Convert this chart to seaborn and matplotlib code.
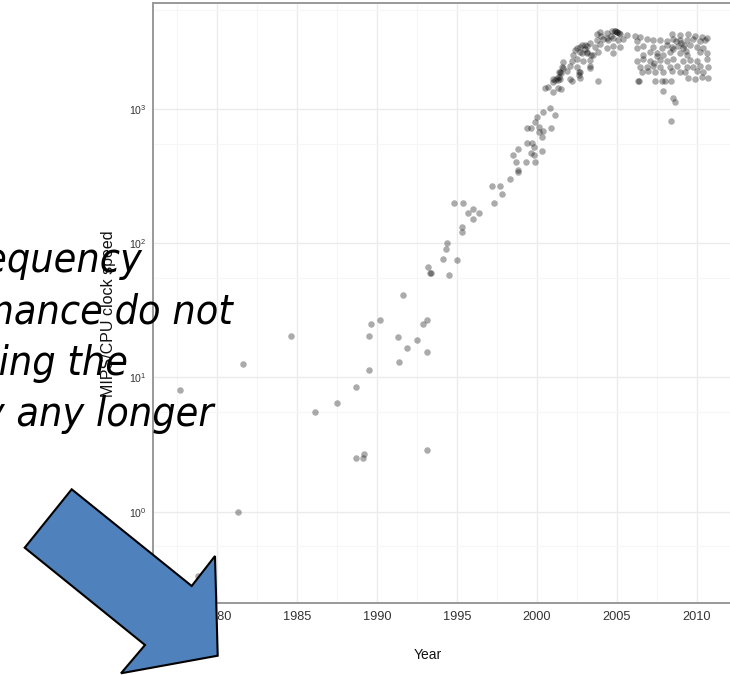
import matplotlib
matplotlib.use("Agg")
import matplotlib.pyplot as plt
from matplotlib import font_manager as fm
from matplotlib.patches import Polygon
from matplotlib.ticker import FixedLocator, NullFormatter
import seaborn as sns
import pandas as pd

# ---------------- data ----------------
years_early = [1977.7, 1978.8, 1981.3, 1981.6, 1984.6, 1986.1, 1987.5, 1988.7, 1988.7, 1989.1,
               1989.2, 1989.5, 1989.5, 1989.6, 1990.2, 1991.3, 1991.4, 1991.6, 1991.9, 1992.5,
               1992.9, 1993.1, 1993.1, 1993.1, 1993.2, 1993.3, 1993.4, 1994.1, 1994.3, 1994.4,
               1994.5, 1994.8, 1995.0, 1995.3, 1995.3, 1995.4, 1995.7, 1996.0, 1996.0, 1996.4,
               1997.2, 1997.3, 1997.7, 1997.8, 1998.3, 1998.5, 1998.7, 1998.8, 1998.8, 1998.8,
               1999.3, 1999.4, 1999.4, 1999.6, 1999.6, 1999.7, 1999.8, 1999.8, 1999.9, 1999.9,
               2000.0, 2000.1, 2000.1, 2000.3, 2000.3, 2000.4, 2000.4, 2000.8, 2000.9, 2001.1]
mips_early = [8.0, 0.33, 1.0, 12.5, 20.2, 5.5, 6.5, 8.5, 2.5, 2.5,
              2.7, 11.4, 20.2, 25.1, 27.0, 20.0, 13.1, 41.0, 16.6, 19.1,
              25.0, 27.0, 15.4, 2.9, 66.5, 60.0, 60.0, 77.0, 90.0, 100.0,
              58.0, 201, 75.6, 132, 121, 201, 167, 181, 151, 167,
              268, 201, 268, 235, 304, 454, 404, 351, 340, 505,
              404, 555, 718, 718, 467, 555, 454, 523, 404, 804,
              877, 738, 678, 621, 487, 955, 685, 1012, 718, 911]

years_knee = [2000.5, 2000.7, 2001.0, 2001.3, 2001.5, 2001.0, 2001.1, 2001.3, 2001.4, 2001.4,
              2001.6, 2001.6, 2001.5, 2002.2, 2003.8, 2006.3, 2006.4, 2007.4, 2007.8, 2008.0,
              2008.4, 2007.85, 2008.5, 2008.6, 2008.4, 2002.4, 2002.7, 2003.0, 2003.1, 2003.4,
              2002.6, 2002.6, 2003.3]
mips_knee = [1427, 1470, 1345, 1427, 1410, 1600, 1645, 1645, 1742, 1897,
             2014, 2254, 1845, 1618, 1618, 1618, 1618, 1618, 1618, 1618,
             1618, 1362, 1215, 1122, 814, 2755, 2917, 3006, 2679, 2530,
             1897, 1788, 2014]

years_top = [2003.73, 2003.94, 2004.36, 2004.67, 2004.88, 2004.98, 2005.19, 2005.61, 2006.13, 2006.44,
             2008.42, 2008.94, 2009.46, 2009.88, 2010.29, 2010.61,
             2003.73, 2004.15, 2004.46, 2004.77, 2005.09, 2005.40, 2006.23, 2006.86, 2007.27, 2007.69,
             2008.11, 2008.52, 2008.94, 2009.36, 2009.77, 2010.19, 2010.50,
             2002.48, 2002.79, 2003.10, 2003.63, 2003.94, 2004.36, 2004.77, 2005.19, 2006.23, 2006.65,
             2007.27, 2007.79, 2008.11, 2008.42, 2008.84, 2009.15, 2009.56, 2009.98, 2010.40,
             2004.9, 2005.0, 2005.1, 2004.6, 2004.4, 2008.7, 2009.0, 2009.2, 2003.3, 2004.0]
mips_top = [3600, 3750, 3700, 3850, 3800, 3780, 3650, 3550, 3500, 3450,
            3600, 3550, 3650, 3500, 3450, 3400,
            3300, 3350, 3250, 3400, 3300, 3350, 3200, 3350, 3250, 3300,
            3200, 3350, 3300, 3250, 3350, 3200, 3300,
            2850, 3000, 2950, 2900, 3050, 2850, 2950, 2900, 2850, 2950,
            2900, 2850, 3000, 2900, 2950, 2850, 3000, 2900, 2850,
            3800, 3780, 3700, 3500, 3400, 3200, 3100, 3000, 3100, 3500]

years_mid = [2002.27, 2002.69, 2003.10, 2003.52, 2003.84, 2004.77, 2006.65, 2007.07, 2007.48, 2007.90,
             2008.31, 2008.94, 2009.36, 2010.19, 2010.61,
             2002.17, 2002.48, 2002.90, 2003.31, 2006.23, 2006.65, 2007.07, 2007.69, 2008.11, 2008.52,
             2009.15, 2009.56, 2009.98, 2010.61,
             2001.54, 2002.06, 2002.48, 2003.31, 2006.44, 2006.86, 2007.27, 2007.69, 2008.31, 2008.73,
             2009.36, 2009.77, 2010.19, 2010.71,
             2001.44, 2001.86, 2002.69, 2006.54, 2006.96, 2007.38, 2007.90, 2008.42, 2008.94, 2009.25,
             2009.98, 2010.40,
             2001.02, 2001.23, 2001.44, 2002.06, 2002.69, 2009.46, 2009.88, 2010.29, 2010.71,
             2008.5, 2007.5, 2007.3, 2009.3, 2003.0, 2002.8]
mips_mid = [2550, 2650, 2600, 2550, 2650, 2600, 2550, 2650, 2600, 2550,
            2650, 2600, 2550, 2650, 2600,
            2300, 2350, 2280, 2330, 2300, 2350, 2280, 2330, 2300, 2350,
            2280, 2330, 2300, 2350,
            2050, 2100, 2050, 2080, 2070, 2050, 2100, 2070, 2050, 2100,
            2070, 2050, 2100, 2070,
            1880, 1920, 1900, 1880, 1920, 1900, 1880, 1920, 1900, 1880,
            1920, 1900,
            1690, 1700, 1680, 1690, 1700, 1700, 1690, 1750, 1720,
            2800, 2500, 2200, 2700, 2800, 2600]

x_ticks = [1980, 1985, 1990, 1995, 2000, 2005, 2010]
x_minor = [1977.5, 1982.5, 1987.5, 1992.5, 1997.5, 2002.5, 2007.5, 2012.5]
y_ticks = [1, 10, 100, 1000]
y_tick_labels = [r"$\mathregular{10^{0}}$", r"$\mathregular{10^{1}}$",
                 r"$\mathregular{10^{2}}$", r"$\mathregular{10^{3}}$"]
y_minor = [0.55, 5.5, 55, 550, 5500]

overlay_lines = ["frequency", "performance do not", "increasing the", "way any longer"]

# ---------------- figure ----------------
sns.set_style("white")
plt.rcParams["font.family"] = ["Liberation Sans", "DejaVu Sans"]

W, H = 730, 675
fig = plt.figure(figsize=(W / 100, H / 100), dpi=100)
fig.patch.set_facecolor("white")

ax = fig.add_axes([153 / W, (H - 603) / H, (736 - 153) / W, 600 / H])

df = pd.DataFrame({
    "Year": years_early + years_knee + years_top + years_mid,
    "MIPS": mips_early + mips_knee + mips_top + mips_mid,
})
sns.scatterplot(data=df, x="Year", y="MIPS", ax=ax, color="black", alpha=0.33,
                s=22, linewidth=0, legend=False, zorder=3)

ax.set_yscale("log")
ax.set_xlim(1976.0, 1976.0 + 583 / 16)
ax.set_ylim(10 ** -0.681, 10 ** 3.791)

ax.xaxis.set_major_locator(FixedLocator(x_ticks))
ax.set_xticklabels([str(t) for t in x_ticks])
ax.xaxis.set_minor_locator(FixedLocator(x_minor))
ax.xaxis.set_minor_formatter(NullFormatter())
ax.yaxis.set_major_locator(FixedLocator(y_ticks))
ax.set_yticklabels(y_tick_labels)
ax.yaxis.set_minor_locator(FixedLocator(y_minor))
ax.yaxis.set_minor_formatter(NullFormatter())

ax.grid(which="major", color="#EBEBEB", linewidth=1.0, zorder=0)
ax.grid(which="minor", color="#F6F6F6", linewidth=0.8, zorder=0)
ax.set_axisbelow(True)

for sp in ax.spines.values():
    sp.set_color("#999999")
    sp.set_linewidth(1.4)

ax.tick_params(axis="both", which="major", direction="out", length=3.6, width=0.9,
               color="#555555", labelcolor="#333333")
ax.tick_params(axis="x", which="major", labelsize=9.2, pad=2.5)
ax.tick_params(axis="y", which="major", labelsize=7.6, pad=0.8)
ax.tick_params(which="minor", length=0)

ax.set_xlabel("Year", fontsize=10, color="#111111", va="center")
ax.xaxis.set_label_coords((427.5 - 153) / 583, (603 - 655) / 600)
ax.set_ylabel("MIPS/CPU clock speed", fontsize=11.5, color="#111111", va="center")
ax.yaxis.set_label_coords((109 - 153) / 583, (603 - 314) / 600)

# ---------------- overlay text (slide) ----------------
cond_file = None
for f in fm.fontManager.ttflist:
    if "DejaVuSansCondensed-Oblique" in f.fname:
        cond_file = f.fname
        break
if cond_file:
    fp = fm.FontProperties(fname=cond_file, size=29.5)
else:
    fp = fm.FontProperties(family="DejaVu Sans", style="italic", size=26)

right_edges = [142, 233, 128, 213]
baselines = [272, 324, 375, 426]
for txt, xr, yb in zip(overlay_lines, right_edges, baselines):
    fig.text(xr / W, 1 - yb / H, txt, ha="right", va="baseline",
             fontproperties=fp, color="black", zorder=5)

# ---------------- block arrow ----------------
arrow_px = [(71.7, 489.3), (191.7, 586.0), (215.0, 556.0), (217.7, 655.7),
            (121.0, 673.3), (145.0, 645.0), (24.7, 547.7)]
arrow = Polygon([(x / W, 1 - y / H) for x, y in arrow_px], closed=True,
                transform=fig.transFigure, facecolor="#4F81BD", edgecolor="black",
                linewidth=1.5, zorder=10)
fig.add_artist(arrow)

fig.savefig("out.png", dpi=100)
